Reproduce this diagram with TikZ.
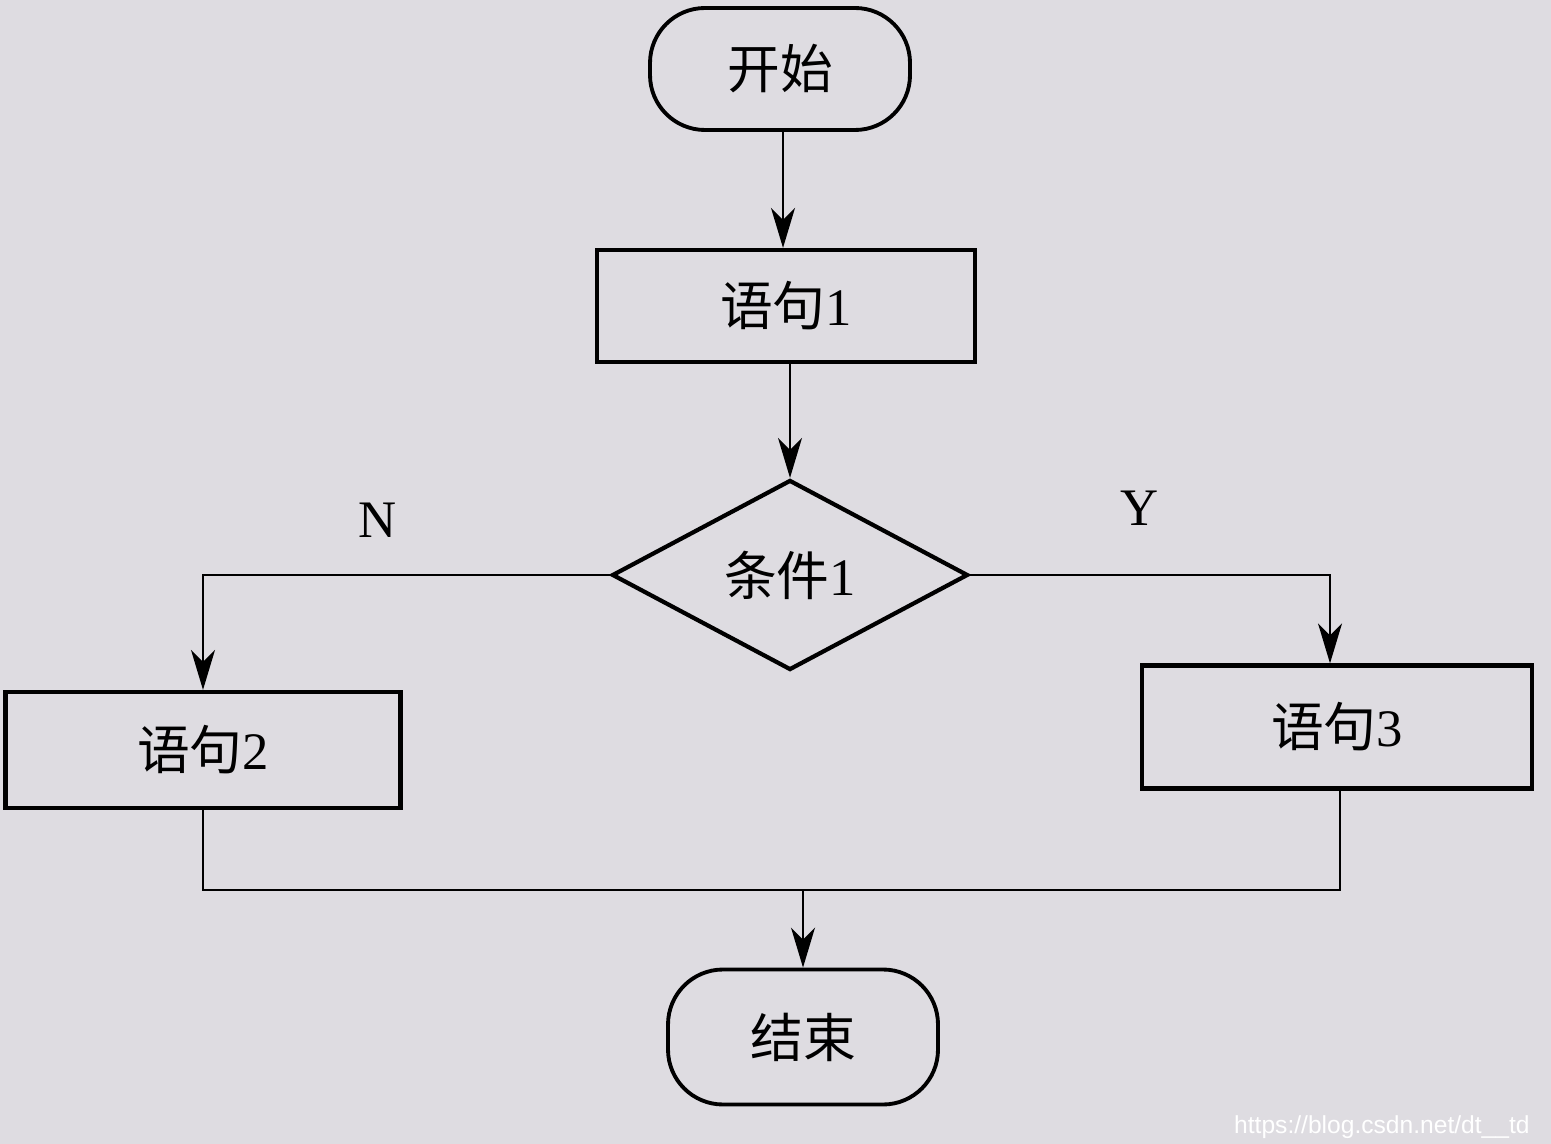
\documentclass[tikz,border=0pt]{standalone}
\usepackage{fontspec}
\setmainfont{Liberation Serif}
\setsansfont{Liberation Sans}
\newfontfamily\cjk{Noto Sans CJK SC}
\usepackage{tikz}
\usetikzlibrary{shapes,arrows.meta,backgrounds}
\usetikzlibrary{positioning, shapes.geometric}
\definecolor{paper}{RGB}{222,220,225}
\tikzset{
  termbox/.style={ draw, line width=1.1pt, rounded corners=0.55cm, font=\fontsize{15}{18}\selectfont }
}
\tikzset{
  stmtbox/.style={ draw, line width=1.2pt, font=\fontsize{15}{18}\selectfont }
}
\tikzset{
  condbox/.style={ draw, diamond, line width=1.2pt, inner sep=0pt, font=\fontsize{15}{18}\selectfont }
}
\tikzset{
  flow/.style={ line width=0.6pt }
}

\begin{document}
\begin{tikzpicture}
      \fill[paper] (0,0) rectangle (15.51,-11.44);
      \useasboundingbox (0,0) rectangle (15.51,-11.44);

      \node[termbox, minimum width=2.6cm, minimum height=1.22cm] (start) at (7.80, -0.69) {\cjk 开始};
      \node[stmtbox, minimum width=3.78cm, minimum height=1.12cm] (s1) at (7.86, -3.06) {{\cjk 语句}1};
      \node[condbox, minimum width=3.56cm, minimum height=1.9cm] (cond) at (7.90, -5.75) {{\cjk 条件}1};

      \node[stmtbox, minimum width=3.95cm, minimum height=1.16cm] (s2) at (2.03, -7.50) {{\cjk 语句}2};
      \node[stmtbox, minimum width=3.90cm, minimum height=1.23cm] (s3) at (13.37, -7.27) {{\cjk 语句}3};

      \node[termbox, minimum width=2.7cm, minimum height=1.35cm] (stop) at (8.03, -10.37) {\cjk 结束};

      \node[font=\fontsize{15}{18}\selectfont] (no) at (3.78, -5.20) {N};
      \node[font=\fontsize{15}{18}\selectfont] (yes) at (11.40, -5.08) {Y};

      \coordinate (join) at (8.03, -8.90);

      \begin{scope}[flow, -{Stealth[length=4mm, width=2.4mm, inset=1.2mm]}]
        \draw ([xshift=0.03cm]start.south) -- ([xshift=0.03cm]start.south |- s1.north);
        \draw (cond.north |- s1.south) -- (cond.north);
        \draw (cond.west) -| (s2.north);
        \draw (cond.east) -| ([xshift=-0.07cm]s3.north);
        \draw (join) -- (stop.north);
      \end{scope}
      \draw[flow] (s2.south) |- (join) -| ([xshift=0.03cm]s3.south);

      \node[text=white, font=\sffamily\fontsize{7}{8}\selectfont, anchor=east] (mark) at (15.42, -11.27) {https://blog.csdn.net/dt\_\_td};
    \end{tikzpicture}
\end{document}
